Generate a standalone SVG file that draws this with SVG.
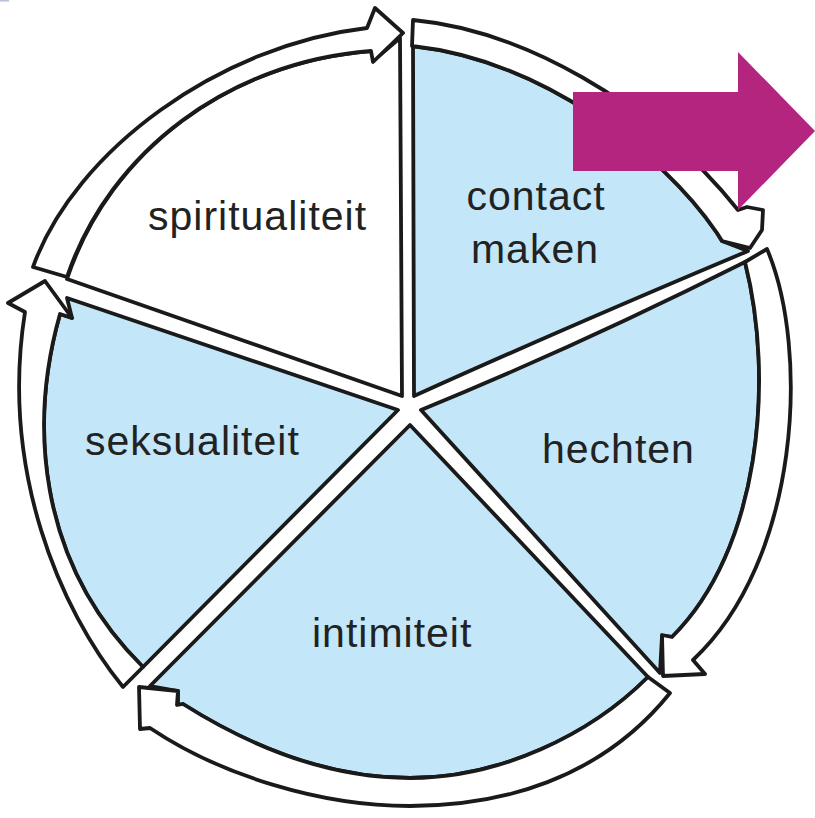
<svg xmlns="http://www.w3.org/2000/svg" width="815" height="818" viewBox="0 0 815 818">
<style>
.seg{stroke:#1a1a1a;stroke-width:3.8;stroke-linejoin:round;stroke-linecap:round}
.blue{fill:#c3e6f8}
.white{fill:#ffffff}
.ring{fill:#ffffff;stroke:#1a1a1a;stroke-width:3.8;stroke-linejoin:round;stroke-linecap:round}
.lbl{font-family:"Liberation Sans",Arial,sans-serif;font-size:41px;letter-spacing:1px;fill:#222222}
</style>
<rect width="815" height="818" fill="#ffffff"/>
<rect x="0" y="0" width="9" height="1.5" fill="#b8bfd8"/>

<g id="spiritualiteit">
<path class="seg white" d="M402,396 L400,38 L380,55 L371,51 C230,62 110,150 67,279 Z"/>
<text class="lbl" x="148" y="230">spiritualiteit</text>
</g>
<g id="contact-maken">
<path class="seg blue" d="M414,396 L413,46 C540,60 660,150 717,233 L722,241 L748,251 Q560,330 414,396 Z"/>
<text class="lbl" x="536" y="210" text-anchor="middle">contact</text>
<text class="lbl" x="535" y="263" text-anchor="middle">maken</text>
</g>
<g id="hechten">
<path class="seg blue" d="M421,410 Q580,345 745,262 C775,380 760,550 672,637 L662,636 L660,673 Z"/>
<text class="lbl" x="542" y="463">hechten</text>
</g>
<g id="intimiteit">
<path class="seg blue" d="M410,425 L648,677 C590,735 500,778 410,778 C320,778 240,740 183,704 L178,705 L178,691 L150,686 Z"/>
<text class="lbl" x="312" y="647">intimiteit</text>
</g>
<g id="seksualiteit">
<path class="seg blue" d="M398,410 L67,298 L72,318 L60,314 C30,420 35,560 143,667 Z"/>
<text class="lbl" x="85" y="455">seksualiteit</text>
</g>

<g id="connectors">
<path class="ring" d="M33,267 C75,150 220,45 367,28 L375,8 L403,33 L373,62 L371,51 C230,62 110,150 67,277 Z"/>
<path class="ring" d="M413,20 C520,30 650,100 738,210 L747,207 L763,210 L762,230 L750,248 L722,241 L717,233 C660,150 540,60 412,46 Z"/>
<path class="ring" d="M745,262 L767,249 C810,350 800,560 693,660 L705,674 L663,676 L662,635 L672,637 C760,550 775,380 745,262 Z"/>
<path class="ring" d="M648,677 L670,693 C600,780 500,806 410,806 C320,806 220,775 150,728 L140,729 L139,687 L178,691 L177,705 L183,704 C240,740 320,778 410,778 C500,778 590,735 648,677 Z"/>
<path class="ring" d="M143,667 L123,687 C60,610 0,470 25,312 L8,303 L45,281 L72,318 L60,314 C30,420 35,560 143,667 Z"/>
</g>

<g id="magenta-arrow">
<path d="M573,92 L738,92 L738,52 L815,131 L738,210 L738,171 L573,171 Z" fill="#b3257f"/>
</g>
</svg>
